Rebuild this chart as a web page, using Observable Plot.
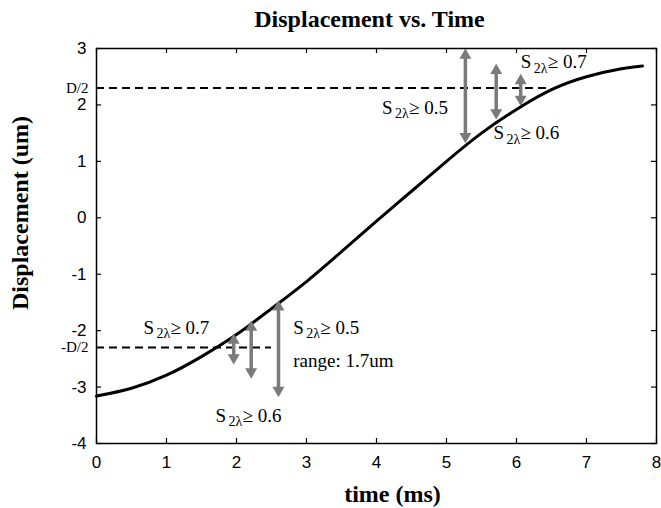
<!DOCTYPE html>
<html>
<head>
<meta charset="utf-8">
<script src="https://cdn.jsdelivr.net/npm/d3@7"></script>
<script src="https://cdn.jsdelivr.net/npm/@observablehq/plot@0.6"></script>
<style>
  html, body { margin: 0; padding: 0; background: #fff; }
</style>
</head>
<body>
<div id="chart"></div>
<script>
// ---- data ----
const timeMs       = [0, 0.5, 1.0, 1.5, 2.0, 2.5, 3.0, 3.5, 4.0, 4.5, 5.0, 5.5, 6.0, 6.5, 7.0, 7.5, 7.8];
const displacement = [-3.16, -3.02, -2.79, -2.46, -2.07, -1.61, -1.13, -0.6, -0.06, 0.47, 1.0, 1.5, 1.92, 2.27, 2.5, 2.64, 2.69];

const xTicks = [0, 1, 2, 3, 4, 5, 6, 7, 8];
const yTicks = [-4, -3, -2, -1, 0, 1, 2, 3];

const halfD       = [2.3, -2.3];
const halfDLabels = ["D/2", "-D/2"];
const dashEnd     = [6.44, 2.5];

const arrowX      = [1.96, 2.21, 2.6, 5.27, 5.71, 6.06];
const arrowTop    = [-2.05, -1.82, -1.46, 3.0, 2.73, 2.55];
const arrowBottom = [-2.6, -2.85, -3.18, 1.32, 1.74, 1.98];

const labelX     = [0.67, 2.81, 1.70, 4.08, 6.06, 5.67];
const labelY     = [-1.95, -1.95, -3.51, 1.95, 2.76, 1.50];
const labelValue = ["0.7", "0.5", "0.6", "0.5", "0.7", "0.6"];

const rangeText = ["range: 1.7um"];
const rangeX = [2.81];
const rangeY = [-2.54];

const titleText = ["Displacement vs. Time"];
const xLabel = ["time (ms)"];
const yLabel = ["Displacement (um)"];

// ---- layout ----
const W = 661, H = 508;
const mL = 96, mR = 5, mT = 48, mB = 65;
const innerW = W - mL - mR, innerH = H - mT - mB;

const curve = timeMs.map((t, i) => ({t, d: displacement[i]}));
const dashIdx = d3.range(halfD.length);
const arrowIdx = d3.range(arrowX.length);
const labelIdx = d3.range(labelX.length);

const serif = "'Liberation Serif', 'Times New Roman', serif";
const sans = "'Liberation Sans', Arial, sans-serif";
const gray = "#7a7a7a";

const chart = Plot.plot({
  width: W,
  height: H,
  marginLeft: mL,
  marginRight: mR,
  marginTop: mT,
  marginBottom: mB,
  style: {background: "white", overflow: "visible"},
  x: {domain: [0, 8]},
  y: {domain: [-4, 3]},
  marks: [
    // inward ticks on all four sides
    Plot.tickX(xTicks, {x: d => d, insetTop: innerH - 5, stroke: "black", strokeWidth: 1.2}),
    Plot.tickX(xTicks, {x: d => d, insetBottom: innerH - 5, stroke: "black", strokeWidth: 1.2}),
    Plot.tickY(yTicks, {y: d => d, insetRight: innerW - 5, stroke: "black", strokeWidth: 1.2}),
    Plot.tickY(yTicks, {y: d => d, insetLeft: innerW - 5, stroke: "black", strokeWidth: 1.2}),
    Plot.axisX(xTicks, {tickSize: 0, tickPadding: 12, fontSize: 17, fontFamily: sans, label: null, tickFormat: d => String(d)}),
    Plot.axisY(yTicks, {tickSize: 0, tickPadding: 10, fontSize: 17, fontFamily: sans, label: null, tickFormat: d => String(d)}),
    // dashed half-D lines
    Plot.ruleY(dashIdx, {y: i => halfD[i], x1: 0, x2: i => dashEnd[i], stroke: "black", strokeWidth: 2, strokeDasharray: "8,5"}),
    Plot.text(dashIdx, {x: 0, y: i => halfD[i], text: i => halfDLabels[i], textAnchor: "end", dx: -8, fontSize: 15, fontFamily: serif, fill: "black"}),
    // displacement curve
    Plot.line(curve, {x: "t", y: "d", stroke: "black", strokeWidth: 3, curve: "natural"}),
    // double arrows
    Plot.ruleX(arrowIdx, {x: i => arrowX[i], y1: i => arrowTop[i], y2: i => arrowBottom[i], stroke: gray, strokeWidth: 3.5, insetTop: 7, insetBottom: 7}),
    Plot.dot(arrowIdx, {x: i => arrowX[i], y: i => arrowTop[i], symbol: "triangle", r: 4.45, fill: gray, stroke: null, dy: 6.9}),
    Plot.dot(arrowIdx, {x: i => arrowX[i], y: i => arrowBottom[i], symbol: "triangle", r: 4.45, fill: gray, stroke: null, rotate: 180, dy: -6.9}),
    // S_{2λ} ≥ v labels
    Plot.text(labelIdx, {x: i => labelX[i], y: i => labelY[i], text: () => "S", textAnchor: "start", fontSize: 19, fontFamily: serif, fill: "black"}),
    Plot.text(labelIdx, {x: i => labelX[i], y: i => labelY[i], text: () => "2λ", textAnchor: "start", dx: 13, dy: 6, fontSize: 14, fontFamily: serif, fill: "black"}),
    Plot.text(labelIdx, {x: i => labelX[i], y: i => labelY[i], text: i => "≥ " + labelValue[i], textAnchor: "start", dx: 27, fontSize: 19, fontFamily: serif, fill: "black"}),
    Plot.text(rangeText, {x: (d, i) => rangeX[i], y: (d, i) => rangeY[i], text: d => d, textAnchor: "start", fontSize: 19, fontFamily: serif, fill: "black"}),
    // frame
    Plot.frame({stroke: "black", strokeWidth: 1.5}),
    // title and axis labels
    Plot.text(titleText, {frameAnchor: "top", lineAnchor: "middle", text: d => d, dy: -29, dx: -7, fontSize: 24, fontWeight: "bold", fontFamily: serif, fill: "black"}),
    Plot.text(xLabel, {frameAnchor: "bottom", lineAnchor: "middle", text: d => d, dy: 51, dx: 16, fontSize: 24, fontWeight: "bold", fontFamily: serif, fill: "black"}),
    Plot.text(yLabel, {frameAnchor: "left", textAnchor: "middle", lineAnchor: "middle", text: d => d, rotate: -90, dx: -76, dy: -33, fontSize: 24, fontWeight: "bold", fontFamily: serif, fill: "black"})
  ]
});

document.getElementById("chart").appendChild(chart);
</script>
</body>
</html>
